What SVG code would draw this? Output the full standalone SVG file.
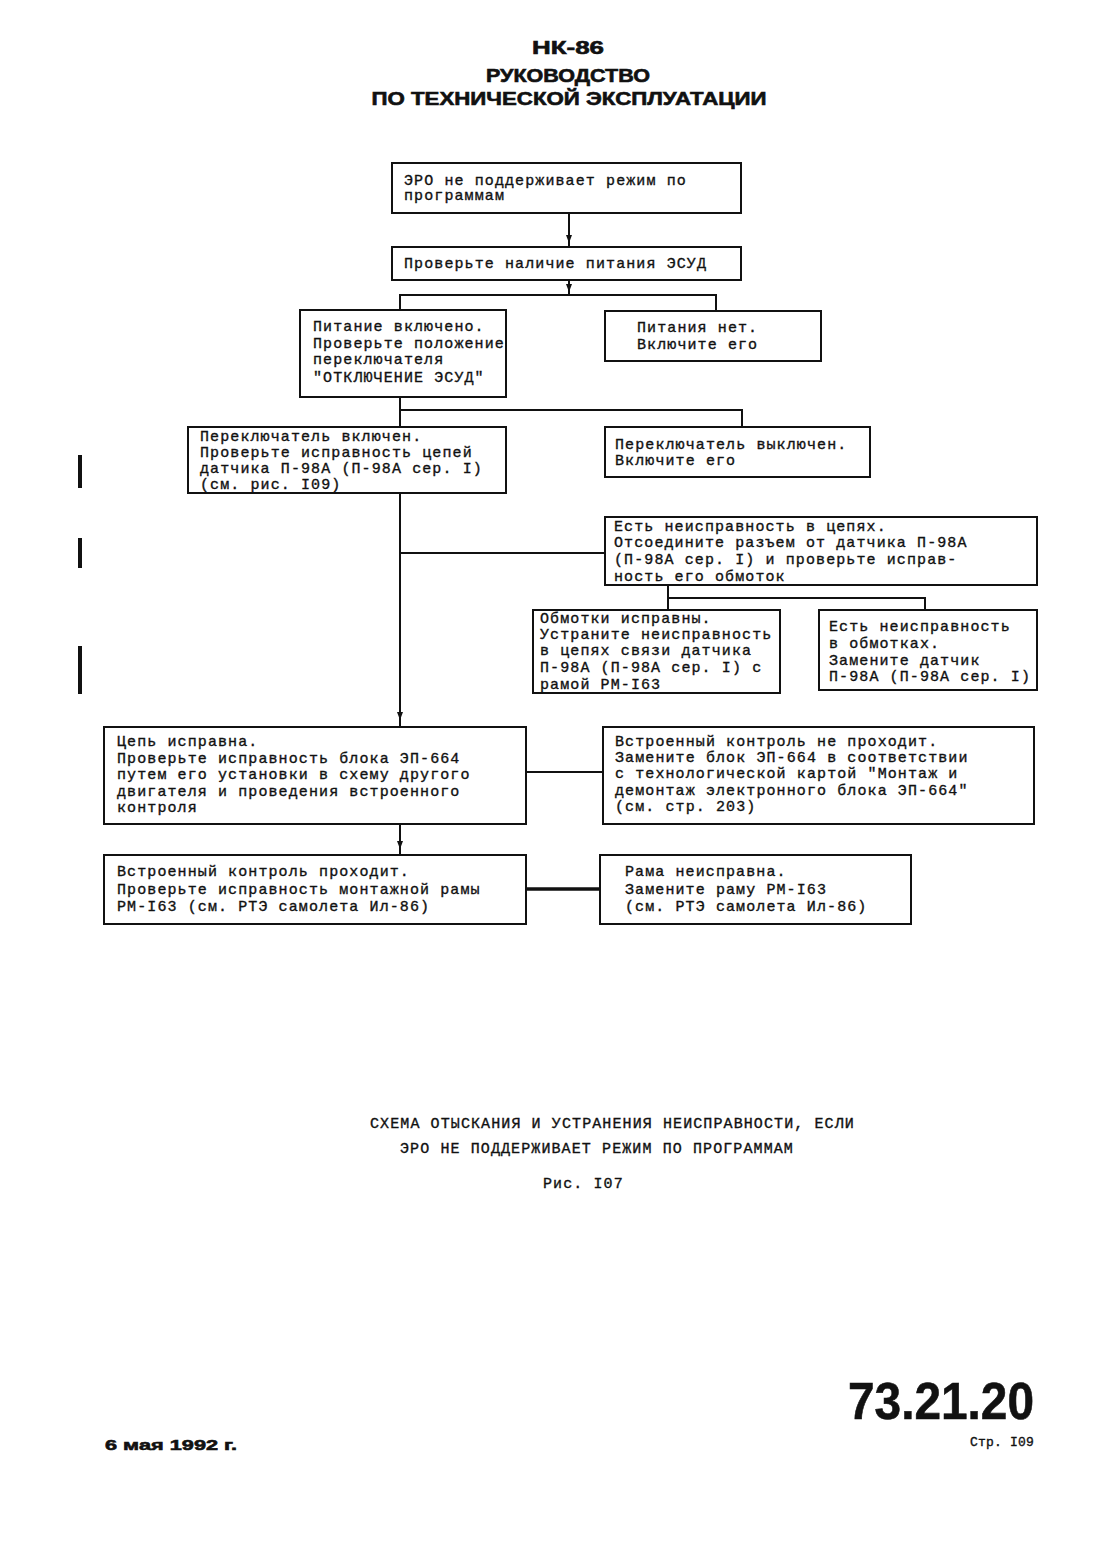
<svg xmlns="http://www.w3.org/2000/svg" width="1116" height="1562" viewBox="0 0 1116 1562">
<style>
.box{fill:#fff;stroke:#111;stroke-width:2}
.t{font-family:"Liberation Mono","DejaVu Sans Mono",monospace;font-size:15px;letter-spacing:1.1px;fill:#111;stroke:#111;stroke-width:0.35}
.h{font-family:"Liberation Sans",Arial,sans-serif;font-weight:bold;fill:#111;stroke:#111;stroke-width:0.6}
.c{fill:none;stroke:#111;stroke-width:2}
</style>
<defs>
<marker id="ar" viewBox="0 0 8 6" refX="8" refY="3" markerWidth="8" markerHeight="6" orient="auto" markerUnits="userSpaceOnUse">
<path d="M0,0 L8,3 L0,6 Z" fill="#111"/>
</marker>
</defs>
<rect width="1116" height="1562" fill="#fff"/>

<g id="header">
<text class="h" x="568" y="54" font-size="18" text-anchor="middle" textLength="72" lengthAdjust="spacingAndGlyphs">НК-86</text>
<text class="h" x="568" y="82" font-size="18" text-anchor="middle" textLength="164" lengthAdjust="spacingAndGlyphs">РУКОВОДСТВО</text>
<text class="h" x="569" y="105" font-size="18" text-anchor="middle" textLength="395" lengthAdjust="spacingAndGlyphs">ПО ТЕХНИЧЕСКОЙ ЭКСПЛУАТАЦИИ</text>
</g>

<g id="n1">
<rect class="box" x="392" y="163" width="349" height="50"/>
<text class="t" x="404" y="185">ЭРО не поддерживает режим по</text>
<text class="t" x="404" y="200">программам</text>
</g>

<g id="n2">
<rect class="box" x="392" y="247" width="349" height="33"/>
<text class="t" x="404" y="268">Проверьте наличие питания ЭСУД</text>
</g>

<g id="n3">
<rect class="box" x="300" y="310" width="206" height="87"/>
<text class="t" x="313" y="331">Питание включено.</text>
<text class="t" x="313" y="348">Проверьте положение</text>
<text class="t" x="313" y="364">переключателя</text>
<text class="t" x="313" y="382">"ОТКЛЮЧЕНИЕ ЭСУД"</text>
</g>

<g id="n4">
<rect class="box" x="605" y="311" width="216" height="50"/>
<text class="t" x="637" y="332">Питания нет.</text>
<text class="t" x="637" y="349">Включите его</text>
</g>

<g id="n5">
<rect class="box" x="188" y="427" width="318" height="66"/>
<text class="t" x="200" y="441">Переключатель включен.</text>
<text class="t" x="200" y="457">Проверьте исправность цепей</text>
<text class="t" x="200" y="473">датчика П-98А (П-98А сер. I)</text>
<text class="t" x="200" y="489">(см. рис. I09)</text>
</g>

<g id="n6">
<rect class="box" x="605" y="427" width="265" height="50"/>
<text class="t" x="615" y="449">Переключатель выключен.</text>
<text class="t" x="615" y="465">Включите его</text>
</g>

<g id="n7">
<rect class="box" x="605" y="517" width="432" height="68"/>
<text class="t" x="614" y="531">Есть неисправность в цепях.</text>
<text class="t" x="614" y="547">Отсоедините разъем от датчика П-98А</text>
<text class="t" x="614" y="564">(П-98А сер. I) и проверьте исправ-</text>
<text class="t" x="614" y="581">ность его обмоток</text>
</g>

<g id="n8">
<rect class="box" x="533" y="610" width="247" height="83"/>
<text class="t" x="540" y="623">Обмотки исправны.</text>
<text class="t" x="540" y="639">Устраните неисправность</text>
<text class="t" x="540" y="655">в цепях связи датчика</text>
<text class="t" x="540" y="672">П-98А (П-98А сер. I) с</text>
<text class="t" x="540" y="689">рамой РМ-I63</text>
</g>

<g id="n9">
<rect class="box" x="819" y="610" width="218" height="80"/>
<text class="t" x="829" y="631">Есть неисправность</text>
<text class="t" x="829" y="648">в обмотках.</text>
<text class="t" x="829" y="665">Замените датчик</text>
<text class="t" x="829" y="681">П-98А (П-98А сер. I)</text>
</g>

<g id="n10">
<rect class="box" x="104" y="727" width="422" height="97"/>
<text class="t" x="117" y="746">Цепь исправна.</text>
<text class="t" x="117" y="763">Проверьте исправность блока ЭП-664</text>
<text class="t" x="117" y="779">путем его установки в схему другого</text>
<text class="t" x="117" y="796">двигателя и проведения встроенного</text>
<text class="t" x="117" y="812">контроля</text>
</g>

<g id="n11">
<rect class="box" x="603" y="727" width="431" height="97"/>
<text class="t" x="615" y="746">Встроенный контроль не проходит.</text>
<text class="t" x="615" y="762">Замените блок ЭП-664 в соответствии</text>
<text class="t" x="615" y="778">с технологической картой "Монтаж и</text>
<text class="t" x="615" y="795">демонтаж электронного блока ЭП-664"</text>
<text class="t" x="615" y="811">(см. стр. 203)</text>
</g>

<g id="n12">
<rect class="box" x="104" y="855" width="422" height="69"/>
<text class="t" x="117" y="876">Встроенный контроль проходит.</text>
<text class="t" x="117" y="894">Проверьте исправность монтажной рамы</text>
<text class="t" x="117" y="911">РМ-I63 (см. РТЭ самолета Ил-86)</text>
</g>

<g id="n13">
<rect class="box" x="600" y="855" width="311" height="69"/>
<text class="t" x="625" y="876">Рама неисправна.</text>
<text class="t" x="625" y="894">Замените раму РМ-I63</text>
<text class="t" x="625" y="911">(см. РТЭ самолета Ил-86)</text>
</g>

<g id="connectors">
<line class="c" x1="569" y1="214" x2="569" y2="246"/>
<line x1="569" y1="214" x2="569" y2="243" stroke="none" marker-end="url(#ar)"/>
<line class="c" x1="569" y1="281" x2="569" y2="295"/>
<line x1="569" y1="281" x2="569" y2="292" stroke="none" marker-end="url(#ar)"/>
<polyline class="c" points="400,309 400,295 716,295 716,310"/>
<polyline class="c" points="400,398 400,410"/>
<polyline class="c" points="400,426 400,410 742,410 742,426"/>
<line class="c" x1="400" y1="494" x2="400" y2="726"/>
<line x1="400" y1="700" x2="400" y2="720" stroke="none" marker-end="url(#ar)"/>
<line class="c" x1="400" y1="553" x2="604" y2="553"/>
<polyline class="c" points="668,586 668,598 925,598 925,609"/>
<line class="c" x1="668" y1="598" x2="668" y2="609"/>
<line class="c" x1="527" y1="772" x2="602" y2="772"/>
<line class="c" x1="400" y1="825" x2="400" y2="854"/>
<line x1="400" y1="825" x2="400" y2="849" stroke="none" marker-end="url(#ar)"/>
<line x1="527" y1="889" x2="599" y2="889" stroke="#111" stroke-width="3.5"/>
</g>

<g id="margin-bars" fill="#111">
<rect x="78" y="455" width="4" height="33"/>
<rect x="78" y="538" width="4" height="30"/>
<rect x="78" y="646" width="4" height="48"/>
</g>

<g id="caption">
<text class="t" x="370" y="1128">СХЕМА ОТЫСКАНИЯ И УСТРАНЕНИЯ НЕИСПРАВНОСТИ, ЕСЛИ</text>
<text class="t" x="400" y="1153">ЭРО НЕ ПОДДЕРЖИВАЕТ РЕЖИМ ПО ПРОГРАММАМ</text>
<text class="t" x="543" y="1188">Рис. I07</text>
</g>

<g id="footer">
<text class="h" x="848" y="1419" font-size="52" textLength="186" lengthAdjust="spacingAndGlyphs">73.21.20</text>
<text class="h" x="105" y="1450" font-size="15" textLength="132" lengthAdjust="spacingAndGlyphs">6 мая 1992 г.</text>
<text class="t" x="970" y="1446" style="font-size:13px;letter-spacing:0.2px">Стр. I09</text>
</g>
</svg>
